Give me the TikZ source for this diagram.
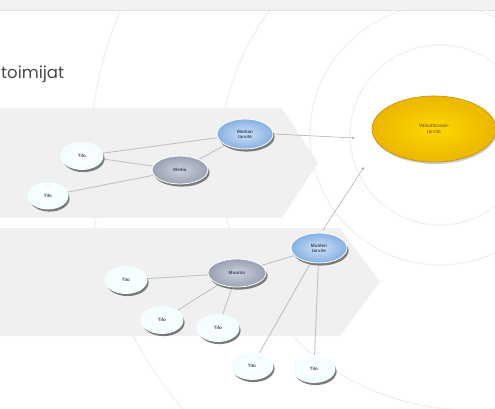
\documentclass[tikz,border=0pt]{standalone}
\usepackage{fontspec}
\setmainfont{Liberation Sans}
\newfontfamily\titlefont{Poppins}
\usetikzlibrary{shapes.geometric,shadows,arrows.meta}
\pgfdeclarelayer{back}
\pgfdeclarelayer{mid}
\pgfsetlayers{back,mid,main}
\definecolor{bandgray}{HTML}{EFEFEF}
\definecolor{toptint}{HTML}{F2F2F2}
\definecolor{arcgray}{HTML}{F2F2F2}
\definecolor{txtblue}{HTML}{3A4A66}
\definecolor{linegray}{HTML}{BCC2CA}
\definecolor{greyin}{HTML}{CCD1DC}
\definecolor{greyout}{HTML}{98A1B4}
\definecolor{bluin}{HTML}{CFE2F8}
\definecolor{bluout}{HTML}{86B0E2}
\tikzset{
  bub/.style={ellipse, inner sep=0pt, draw=white, line width=0.8pt,
    drop shadow={shadow xshift=1.6pt, shadow yshift=-2.6pt, fill=black!60, opacity=0.85},
    font=\fontsize{4.6}{5}\selectfont\bfseries, text=txtblue, align=center},
  tilo/.style={bub, minimum width=42pt, minimum height=27pt,
    inner color=white, outer color=blue!10!cyan!6!white},
  grey/.style={bub, minimum width=56pt, minimum height=28pt,
    inner color=greyin, outer color=greyout},
  blu/.style={bub, minimum width=56pt, minimum height=30pt,
    inner color=bluin, outer color=bluout},
  gold/.style={ellipse, inner sep=0pt, minimum width=124pt, minimum height=66pt,
    inner color=yellow!70!orange, outer color=orange!45!yellow!92!black,
    draw=orange!60!yellow!80!black, line width=0.6pt,
    drop shadow={shadow xshift=1pt, shadow yshift=-2pt, fill=black!40, opacity=0.5},
    font=\fontsize{5}{6}\selectfont, text=brown!60!black, align=center},
  conn/.style={draw=linegray, line width=0.9pt},
  arr/.style={draw=black!35, line width=0.5pt, -{Stealth[length=3pt,width=2.4pt]}},
  arc/.style={draw=arcgray, line width=1.4pt}
}
\begin{document}
\begin{tikzpicture}[x=1pt,y=-1pt]
\useasboundingbox (0,0) rectangle (495,409);
\begin{pgfonlayer}{back}
\fill[white] (0,0) rectangle (495,409);
\begin{scope}
\clip (0,10) rectangle (495,409);
\draw[arc] (470,160) circle (380);
\draw[arc] (470,160) circle (250);
\draw[arc] (440,135) circle (130);
\draw[arc] (440,135) circle (90);
\end{scope}
\fill[toptint] (0,0) rectangle (495,10);
\draw[black!12, line width=0.8pt] (0,10.5) -- (495,10.5);
\fill[bandgray, opacity=0.9] (0,108) -- (282,108) -- (318,163) -- (282,218) -- (0,218) -- cycle;
\fill[bandgray, opacity=0.9] (0,228) -- (340,228) -- (380,282) -- (340,336) -- (0,336) -- cycle;
\end{pgfonlayer}
% title
\node[anchor=base west, inner sep=0pt, text=black!72, font=\titlefont\fontsize{16.5}{20}\selectfont] (title) at (1,79) {toimijat};
% upper group
\node[blu] (bu) at (245,134) {Median\\tarvite};
\node[grey] (me) at (180,170) {Media};
\node[tilo] (t1) at (82,156) {Tilo};
\node[tilo, minimum width=40pt, minimum height=26pt] (t2) at (48,196) {Tilo};
% lower group
\node[blu] (bl) at (319,248) {Muiden\\tarvite};
\node[grey, minimum width=58pt] (mu) at (237,273) {Muunto};
\node[tilo] (t3) at (126,280) {Tilo};
\node[tilo] (t4) at (162,320) {Tilo};
\node[tilo] (t5) at (218,328) {Tilo};
\node[tilo] (t6) at (252,366) {Tilo};
\node[tilo] (t7) at (314,369) {Tilo};
% yellow
\node[gold] (y) at (434,129) {Valuuttavaan-\\tarvite};
% connectors
\begin{pgfonlayer}{mid}
\draw[conn] (t1) -- (bu);
\draw[conn] (t1) -- (me);
\draw[conn] (t2) -- (me);
\draw[conn] (me) -- (bu);
\draw[conn] (t3) -- (mu);
\draw[conn] (mu) -- (t4);
\draw[conn] (mu) -- (t5);
\draw[conn] (mu) -- (bl);
\draw[conn] (bl) -- (t6);
\draw[conn] (bl) -- (t7);
\coordinate (a1) at (355,138);
\coordinate (a2) at (364,167);
\coordinate (bls) at (323,230);
\draw[arr] (bu.east) -- (a1);
\draw[arr] (bls) -- (a2);
\end{pgfonlayer}
\end{tikzpicture}
\end{document}
